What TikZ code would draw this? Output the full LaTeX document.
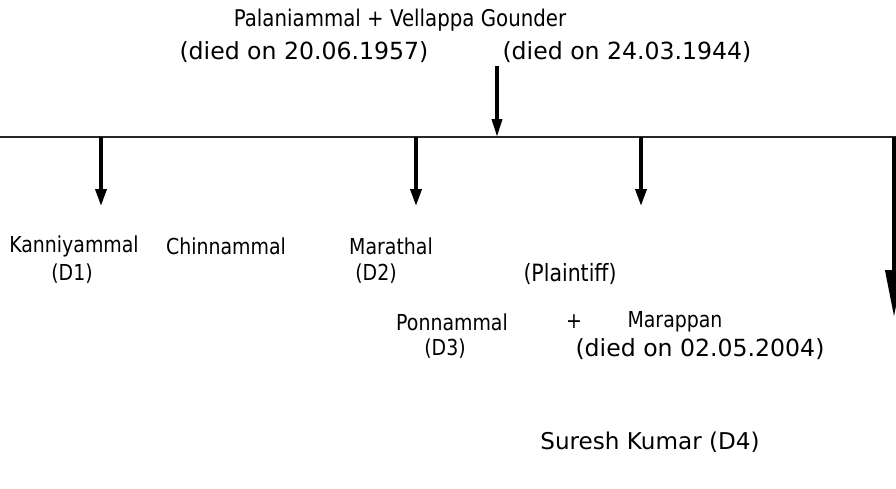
\documentclass[tikz,border=0pt]{standalone}
\usepackage{fontspec}
\setmainfont{DejaVu Sans}
\newfontfamily\namefont{DejaVu Sans}[FakeStretch=0.86]
\usepackage{tikz}
\usetikzlibrary{arrows.meta}

\begin{document}
\begin{tikzpicture}[x=1pt, y=-1pt,
        nm/.style={inner sep=0pt, anchor=center, font=\namefont\fontsize{22}{26}\selectfont},
        dt/.style={inner sep=0pt, anchor=center, font=\fontsize{23.6}{28}\selectfont},
        down/.style={line width=3.5pt, -{Triangle[width=11pt,length=17pt]}}]
        \useasboundingbox (0,0) rectangle (896,488);
        % parents
        \node[nm, font=\namefont\fontsize{23}{26}\selectfont] (par) at (400,20) {Palaniammal + Vellappa Gounder};
        \node[dt] (pdied) at (304,52) {(died on 20.06.1957)};
        \node[dt] (vdied) at (627,52) {(died on 24.03.1944)};
        % children
        \node[nm] (kan) at (74,246) {Kanniyammal};
        \node[nm] (d1) at (72,274) {(D1)};
        \node[nm] (chin) at (226,246) {Chinnammal};
        \node[nm] (mar) at (391,246) {Marathal};
        \node[nm] (d2) at (376,274) {(D2)};
        \node[nm, font=\namefont\fontsize{23.8}{26}\selectfont] (plt) at (570,274) {(Plaintiff)};
        \node[nm] (pon) at (452,322) {Ponnammal};
        \node[nm] (plus) at (574,322) {+};
        \node[nm] (marap) at (675,322) {Marappan};
        \node[nm] (d3) at (445,349) {(D3)};
        \node[dt] (mdied) at (700,349) {(died on 02.05.2004)};
        \node[dt, font=\fontsize{23.1}{28}\selectfont] (sur) at (650,442) {Suresh Kumar (D4)};
        % branch line
        \coordinate (top) at (497,66);
        \coordinate (bl) at (0,137);
        \coordinate (br) at (896,137);
        \coordinate (bm) at (497,137);
        \draw[line width=1.2pt, black!85] (bl) -- (br);
        \draw[line width=3.5pt, -{Triangle[width=10pt,length=18pt]}] (top) -- (bm);
        \foreach \x/\n in {101/a, 416/b, 641/c} {
          \coordinate (s\n) at (\x,137);
          \coordinate (e\n) at (\x,206);
          \draw[down] (s\n) -- (e\n);
        }
        \coordinate (sd) at (894,137);
        \coordinate (ed) at (894,317);
        \draw[line width=4pt, -{Triangle[width=17pt,length=47pt]}] (sd) -- (ed);
      \end{tikzpicture}
\end{document}
